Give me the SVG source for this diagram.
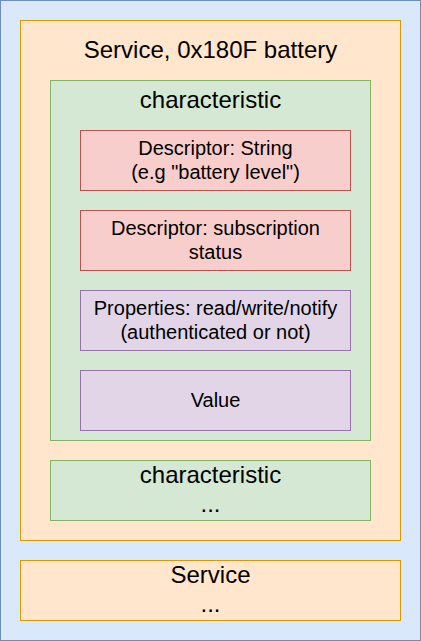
<svg xmlns="http://www.w3.org/2000/svg" width="421" height="641" viewBox="0 0 421 641">
<style>
text{font-family:"Liberation Sans",Arial,Helvetica,sans-serif;fill:#000;text-anchor:middle}
.t24{font-size:24px}
.t20{font-size:20px}
.blue{fill:#dae8fc;stroke:#6c8ebf}
.orange{fill:#ffe6cc;stroke:#d79b00}
.green{fill:#d5e8d4;stroke:#82b366}
.red{fill:#f8cecc;stroke:#b85450}
.purple{fill:#e1d5e7;stroke:#9673a6}
rect{stroke-width:1}
</style>
<g id="device"><rect class="blue" x="0.5" y="0.5" width="420" height="640"/></g>
<g id="service1">
<rect class="orange" x="20.5" y="20.5" width="380" height="520"/>
<text class="t24" x="210.5" y="58">Service, 0x180F battery</text>
</g>
<g id="characteristic1">
<rect class="green" x="50.5" y="80.5" width="320" height="360"/>
<text class="t24" x="210.5" y="107.5">characteristic</text>
</g>
<g id="descriptor-string">
<rect class="red" x="80.5" y="130.5" width="270" height="60"/>
<text class="t20" x="215.5" y="155">Descriptor: String</text>
<text class="t20" x="215.5" y="179">(e.g "battery level")</text>
</g>
<g id="descriptor-subscription">
<rect class="red" x="80.5" y="210.5" width="270" height="60"/>
<text class="t20" x="215.5" y="235">Descriptor: subscription</text>
<text class="t20" x="215.5" y="259">status</text>
</g>
<g id="properties">
<rect class="purple" x="80.5" y="290.5" width="270" height="60"/>
<text class="t20" x="215.5" y="315">Properties: read/write/notify</text>
<text class="t20" x="215.5" y="339">(authenticated or not)</text>
</g>
<g id="value">
<rect class="purple" x="80.5" y="370.5" width="270" height="60"/>
<text class="t20" x="215.5" y="407">Value</text>
</g>
<g id="characteristic2">
<rect class="green" x="50.5" y="460.5" width="320" height="60"/>
<text class="t24" x="210.5" y="483">characteristic</text>
<text class="t24" x="210.5" y="512">...</text>
</g>
<g id="service2">
<rect class="orange" x="20.5" y="560.5" width="380" height="60"/>
<text class="t24" x="210.5" y="583">Service</text>
<text class="t24" x="210.5" y="612">...</text>
</g>
<g id="connectors"/>
</svg>
